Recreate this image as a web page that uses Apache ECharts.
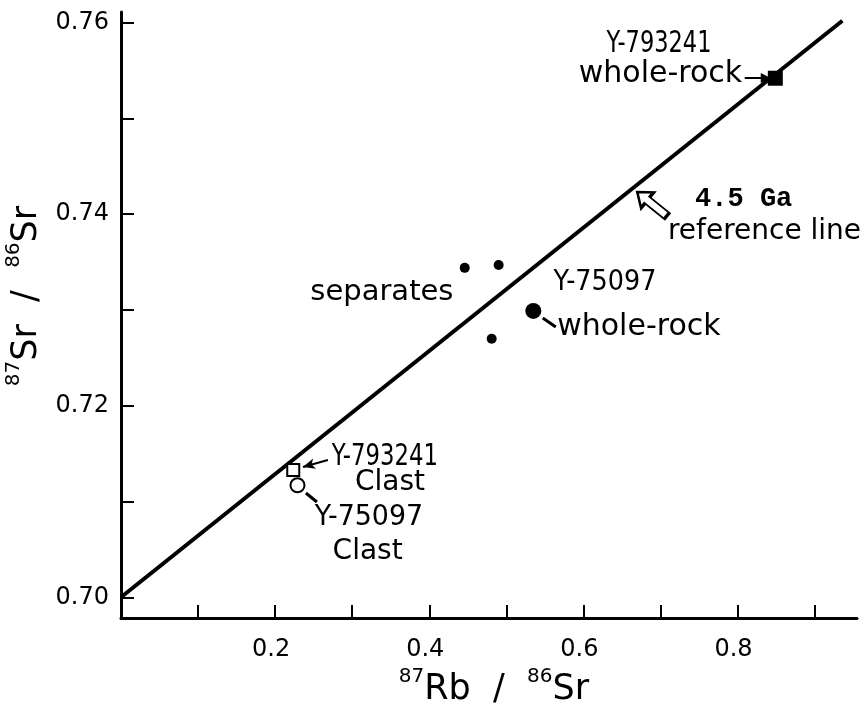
<!DOCTYPE html>
<html>
<head>
<meta charset="utf-8">
<title>Rb-Sr isochron diagram</title>
<script src="https://cdn.jsdelivr.net/npm/echarts@6/dist/echarts.min.js"></script>
<style>
  html, body { margin: 0; padding: 0; background: #fff; }
  #chart { width: 868px; height: 704px; }
</style>
</head>
<body>
<div id="chart"></div>
<script>
// ---- data (87Rb/86Sr, 87Sr/86Sr) ----
const separates = [[0.446, 0.7344], [0.490, 0.7347], [0.481, 0.7270]];
const y75097WholeRock = [[0.535, 0.7299]];
const y793241WholeRock = [[0.849, 0.7542]];
const y793241Clast = [[0.2235, 0.7133]];
const y75097Clast = [[0.229, 0.7117]];
const referenceLine = [[0, 0.700], [0.936, 0.7602]];

// ---- axis ticks and labels ----
const xTickValues = [0.1, 0.2, 0.3, 0.4, 0.5, 0.6, 0.7, 0.8, 0.9];
const xLabelValues = [0.2, 0.4, 0.6, 0.8];
const yTickValues = [0.70, 0.71, 0.72, 0.73, 0.74, 0.75, 0.76];
const yLabelValues = [0.70, 0.72, 0.74, 0.76];

const FONT = '"DejaVu Sans", "Liberation Sans", sans-serif';

const chart = echarts.init(document.getElementById('chart'), null, { renderer: 'canvas' });

const axisBase = {
  type: 'value',
  splitLine: { show: false },
  axisLine: { show: true, onZero: false, lineStyle: { color: '#000', width: 3 } },
  axisTick: { show: true, inside: true, length: 13, lineStyle: { color: '#000', width: 2 } },
  axisLabel: { color: '#000', fontFamily: FONT, fontSize: 24 }
};

// isotope ratio names: small raised mass numbers before each element symbol
const nameRich = {
  sup: { fontFamily: FONT, fontSize: 20, color: '#000', verticalAlign: 'bottom', padding: [0, 0, 21, 0] },
  main: { fontFamily: FONT, fontSize: 35, color: '#000', verticalAlign: 'bottom' }
};

const scatterStyle = { color: '#000', opacity: 1 };
const openStyle = { color: '#fff', borderColor: '#000', borderWidth: 2, opacity: 1 };

const option = {
  animation: false,
  backgroundColor: '#fff',
  grid: { left: 121, right: 11, top: 12, bottom: 86, containLabel: false, outerBoundsMode: 'none' },
  xAxis: Object.assign({}, axisBase, {
    min: 0,
    max: 0.955,
    axisTick: Object.assign({}, axisBase.axisTick, { customValues: xTickValues }),
    axisLabel: Object.assign({}, axisBase.axisLabel, {
      customValues: xLabelValues,
      margin: 20,
      padding: [0, 8, 0, 0],
      formatter: v => v.toFixed(1)
    }),
    name: '{sup|87}{main|Rb  /  }{sup|86}{main|Sr}',
    nameLocation: 'middle',
    nameGap: 42,
    nameTextStyle: { padding: [0, 0, 0, 10], rich: nameRich }
  }),
  yAxis: Object.assign({}, axisBase, {
    min: 0.697839,
    max: 0.761116,
    axisTick: Object.assign({}, axisBase.axisTick, { customValues: yTickValues }),
    axisLabel: Object.assign({}, axisBase.axisLabel, {
      customValues: yLabelValues,
      margin: 12,
      formatter: v => v.toFixed(2)
    }),
    name: '{sup|87}{main|Sr  /  }{sup|86}{main|Sr}',
    nameLocation: 'middle',
    nameGap: 76,
    nameRotate: 90,
    nameTextStyle: { padding: [0, 0, 0, 38], rich: nameRich }
  }),
  series: [
    {
      name: '4.5 Ga reference line',
      type: 'line',
      data: referenceLine,
      symbol: 'none',
      lineStyle: { color: '#000', width: 4 },
      z: 2,
      markLine: {
        silent: true,
        symbol: ['none', 'none'],
        lineStyle: { color: '#000', width: 2, type: 'solid' },
        label: { show: false },
        data: [
          // leader: Y-793241 whole-rock label -> square
          [{ coord: [0.8093, 0.75422], symbol: 'none' }, { coord: [0.8366, 0.75422], symbol: 'triangle', symbolSize: [10, 10], symbolRotate: -90 }],
          // leader: Y-793241 clast label -> open square
          [{ coord: [0.2685, 0.71434], symbol: 'none' }, { coord: [0.2361, 0.71361], symbol: 'arrow', symbolSize: [8, 12] }],
          // leader: Y-75097 clast label -> open circle
          [{ coord: [0.2542, 0.70995], symbol: 'none', lineStyle: { width: 3 } }, { coord: [0.2399, 0.71089], symbol: 'none' }],
          // leader: Y-75097 whole-rock label -> filled circle
          [{ coord: [0.5642, 0.72823], symbol: 'none', lineStyle: { width: 3 } }, { coord: [0.5473, 0.72916], symbol: 'none' }]
        ]
      }
    },
    {
      name: 'separates',
      type: 'scatter',
      data: separates,
      symbol: 'circle',
      symbolSize: 10,
      itemStyle: scatterStyle,
      z: 3
    },
    {
      name: 'Y-75097 whole-rock',
      type: 'scatter',
      data: y75097WholeRock,
      symbol: 'circle',
      symbolSize: 16,
      itemStyle: scatterStyle,
      z: 3
    },
    {
      name: 'Y-793241 whole-rock',
      type: 'scatter',
      data: y793241WholeRock,
      symbol: 'rect',
      symbolSize: 15,
      itemStyle: scatterStyle,
      z: 3
    },
    {
      name: 'Y-793241 clast',
      type: 'scatter',
      data: y793241Clast,
      symbol: 'rect',
      symbolSize: 12,
      itemStyle: openStyle,
      z: 4
    },
    {
      name: 'Y-75097 clast',
      type: 'scatter',
      data: y75097Clast,
      symbol: 'circle',
      symbolSize: 14,
      itemStyle: openStyle,
      z: 4
    },
    {
      // hollow arrow pointing at the reference line
      name: 'reference arrow',
      type: 'scatter',
      data: [[0.689, 0.74107]],
      symbol: 'path://M10,0 L20,13 L14,13 L14,38 L6,38 L6,13 L0,13 Z',
      symbolSize: [20, 38],
      symbolRotate: 51,
      itemStyle: { color: '#fff', borderColor: '#000', borderWidth: 2.5, opacity: 1 },
      silent: true,
      z: 4
    }
  ]
};

chart.setOption(option);

// ---- text annotations, anchored in data coordinates ----
const notes = [
  { text: 'Y-793241', at: [0.698, 0.7578], size: 30, scaleX: 0.75 },
  { text: 'whole-rock', at: [0.700, 0.7546], size: 30, scaleX: 1.0 },
  { text: '4.5 Ga', at: [0.808, 0.74157], size: 27, family: '"Liberation Mono", "DejaVu Sans Mono", monospace', weight: 'bold', scaleX: 1.0 },
  { text: 'reference line', at: [0.835, 0.7382], size: 28, scaleX: 1.0 },
  { text: 'separates', at: [0.3385, 0.7318], size: 29, scaleX: 1.0 },
  { text: 'Y-75097', at: [0.628, 0.7328], size: 28, scaleX: 0.91 },
  { text: 'whole-rock', at: [0.672, 0.7282], size: 30, scaleX: 1.0 },
  { text: 'Y-793241', at: [0.3424, 0.71465], size: 30, scaleX: 0.76 },
  { text: 'Clast', at: [0.349, 0.7120], size: 28, scaleX: 1.0 },
  { text: 'Y-75097', at: [0.3217, 0.7083], size: 28, scaleX: 0.96 },
  { text: 'Clast', at: [0.320, 0.7048], size: 28, scaleX: 1.0 }
];

chart.setOption({
  graphic: notes.map(n => {
    const p = chart.convertToPixel({ gridIndex: 0 }, n.at);
    return {
      type: 'text',
      x: p[0],
      y: p[1],
      scaleX: n.scaleX,
      z: 10,
      style: {
        text: n.text,
        fill: '#000',
        fontFamily: n.family || FONT,
        fontSize: n.size,
        fontWeight: n.weight || 'normal',
        align: 'center',
        verticalAlign: 'middle'
      }
    };
  })
});
</script>
</body>
</html>
